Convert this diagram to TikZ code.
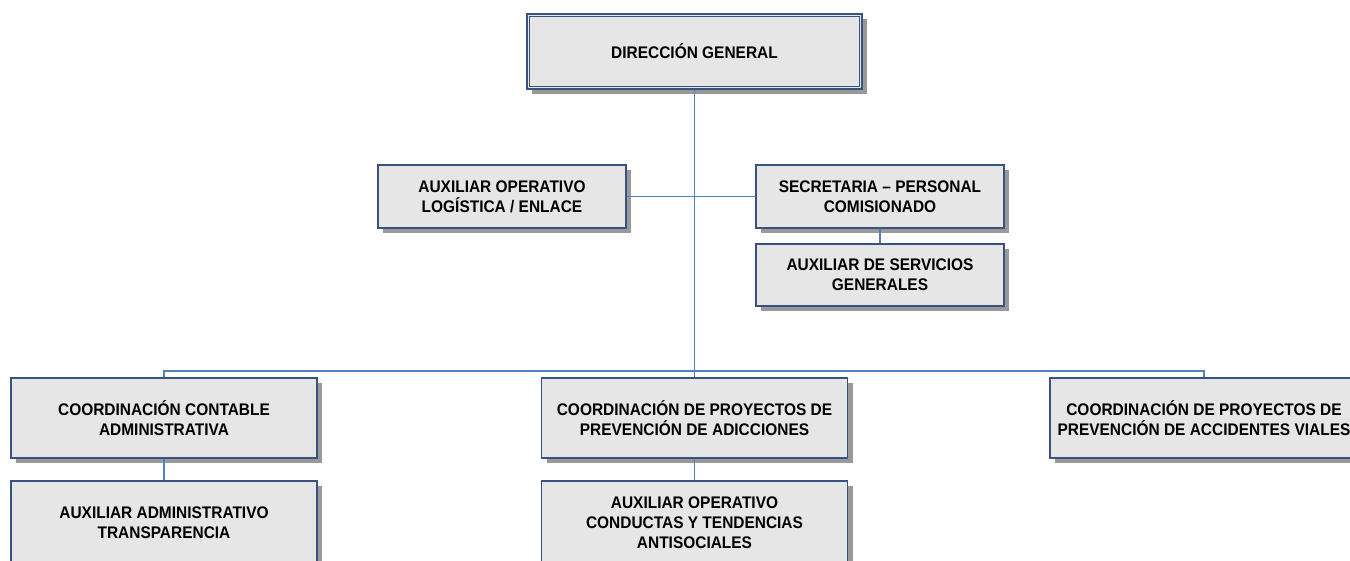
\documentclass[tikz,border=0pt]{standalone}
\usepackage{fontspec}
\setmainfont{Liberation Sans}[FakeStretch=0.92]
\usetikzlibrary{shadows}

\definecolor{boxline}{RGB}{56,83,128}
\definecolor{boxfill}{RGB}{230,230,230}
\definecolor{linkline}{RGB}{84,130,190}

\begin{document}
\begin{tikzpicture}[
        x=0.5pt, y=-0.5pt,
        unit/.style={rectangle, draw=boxline, line width=0.7pt, fill=boxfill, align=center, font=\fontsize{8.4}{10}\selectfont\bfseries, inner sep=0pt,
            drop shadow={shadow xshift=2.5pt, shadow yshift=-2.5pt, fill=black!50, opacity=0.8}},
        small_unit/.style={unit, minimum width=124pt, minimum height=31.5pt},
        wide_unit/.style={unit, minimum width=153pt, minimum height=40pt},
        link/.style={draw=linkline, line width=0.8pt}
    ]
        \useasboundingbox (0,0) rectangle (1350,561);
        \clip (0,0) rectangle (1350,561);

        % Top: direccion general (double frame)
        \node[unit, minimum width=167.5pt, minimum height=37.5pt] (dir_gen) at (694.5,51.5) {DIRECCIÓN GENERAL};
        \draw[boxline, line width=0.5pt] ([xshift=1.7pt,yshift=-1.7pt]dir_gen.north west) rectangle ([xshift=-1.7pt,yshift=1.7pt]dir_gen.south east);

        % Staff units
        \node[small_unit] (aux_log) at (502,196.5) {AUXILIAR OPERATIVO\\LOGÍSTICA / ENLACE};
        \node[small_unit] (secre) at (880,196.5) {SECRETARIA – PERSONAL\\COMISIONADO};
        \node[small_unit, minimum height=31pt] (aux_serv) at (880,275) {AUXILIAR DE SERVICIOS\\GENERALES};

        % Coordinations
        \node[wide_unit] (coord_cont) at (164,418) {COORDINACIÓN CONTABLE\\ADMINISTRATIVA};
        \node[wide_unit] (coord_adic) at (694.5,418) {COORDINACIÓN DE PROYECTOS DE\\PREVENCIÓN DE ADICCIONES};
        \node[wide_unit, minimum width=154pt] (coord_vial) at (1204,418) {COORDINACIÓN DE PROYECTOS DE\\PREVENCIÓN DE ACCIDENTES VIALES};

        % Assistants under coordinations (cut by the page edge)
        \node[wide_unit, minimum height=42pt] (aux_trans) at (164,523) {AUXILIAR ADMINISTRATIVO\\TRANSPARENCIA};
        \node[wide_unit, minimum height=42pt] (aux_cond) at (694.5,523) {AUXILIAR OPERATIVO\\CONDUCTAS Y TENDENCIAS\\ANTISOCIALES};

        % Connectors
        \coordinate (bus) at (694.5,372);
        \draw[link] (dir_gen.south) -- (bus);
        \draw[link] (aux_log.east) -- (secre.west);
        \draw[link] (secre.south) -- (aux_serv.north);
        \draw[link] (coord_cont.north) -- ++(0,-6) -| (coord_vial.north);
        \draw[link] (bus) -- (coord_adic.north);
        \draw[link] (coord_cont.south) -- (aux_trans.north);
        \draw[link] (coord_adic.south) -- (aux_cond.north);

    \end{tikzpicture}
\end{document}
